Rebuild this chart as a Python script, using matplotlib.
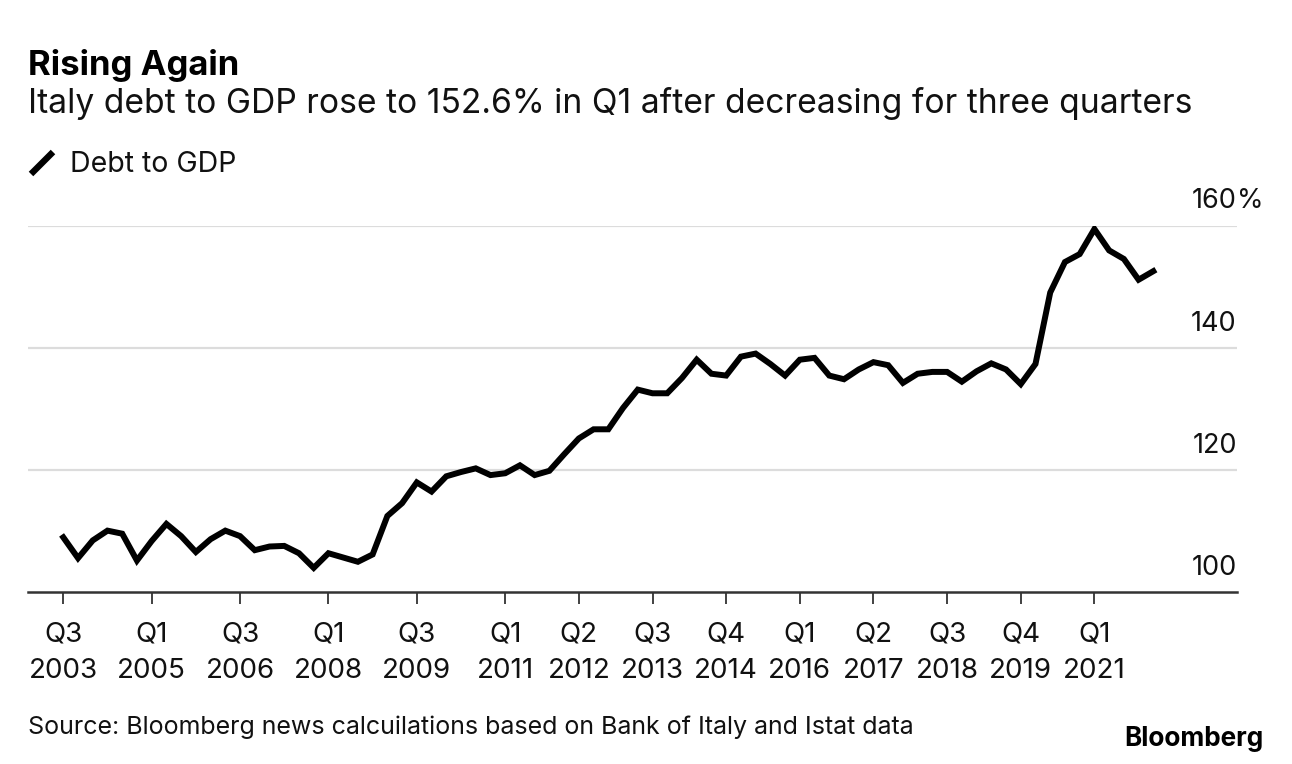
"Italy debt to GDP"
import matplotlib
matplotlib.use("Agg")
import matplotlib.pyplot as plt
from matplotlib.lines import Line2D
from matplotlib import transforms

plt.rcParams['font.family'] = ['Inter', 'DejaVu Sans']

# quarterly, Q3 2003 .. Q1 2022 (% of GDP)
debt_to_gdp = [109.0, 105.6, 108.5, 110.1, 109.6, 105.2, 108.4, 111.2, 109.2, 106.6,
               108.7, 110.1, 109.2, 106.9, 107.5, 107.6, 106.4, 104.0, 106.4, 105.7,
               105.0, 106.2, 112.5, 114.6, 118.0, 116.5, 119.0, 119.7, 120.3, 119.2,
               119.5, 120.8, 119.2, 119.9, 122.6, 125.2, 126.7, 126.7, 130.2, 133.2,
               132.6, 132.6, 135.1, 138.1, 135.8, 135.5, 138.6, 139.1, 137.4, 135.5,
               138.1, 138.4, 135.5, 134.9, 136.5, 137.7, 137.2, 134.3, 135.8, 136.1,
               136.1, 134.5, 136.2, 137.5, 136.5, 134.1, 137.4, 149.1, 154.1, 155.4,
               159.5, 156.0, 154.6, 151.2, 152.6]
quarters = list(range(len(debt_to_gdp)))

tick_pos = [0, 6, 12, 18, 24, 30, 35, 40, 45, 50, 55, 60, 65, 70]
tick_labels = ["Q3\n2003", "Q1\n2005", "Q3\n2006", "Q1\n2008", "Q3\n2009", "Q1\n2011",
               "Q2\n2012", "Q3\n2013", "Q4\n2014", "Q1\n2016", "Q2\n2017", "Q3\n2018",
               "Q4\n2019", "Q1\n2021"]
y_ticks = [100, 120, 140, 160]

W, H = 1292, 764
fig = plt.figure(figsize=(W / 100, H / 100), dpi=100)
ax = fig.add_axes([28.3 / W, 1 - 592.3 / H, (1236.7 - 28.3) / W, (592.3 - 226) / H])

ax.plot(quarters, debt_to_gdp, color='black', lw=4.3, solid_joinstyle='miter', zorder=3)

ax.set_xlim(-2.376, 79.66)
ax.set_ylim(100, 160)

# grid
for v in y_ticks[1:]:
    ax.axhline(v, color='#dcdcdc', lw=1.6, zorder=1)
for s in ['top', 'right', 'left']:
    ax.spines[s].set_visible(False)
ax.spines['bottom'].set_color('#333333')
ax.spines['bottom'].set_linewidth(1.8)

ax.set_yticks([])
ax.set_xticks(tick_pos, labels=tick_labels)
ax.tick_params(axis='x', length=8.6, width=1.3, color='#333333', pad=12.5,
               labelsize=20, labelcolor='#111111')
for lab in ax.get_xticklabels():
    lab.set_linespacing(1.52)

# y labels above the grid lines, right aligned
trans = transforms.blended_transform_factory(ax.transAxes, ax.transData)
trans = transforms.offset_copy(trans, fig=fig, y=17.5, units='dots')
for v in y_ticks:
    ax.text(1.0, v, str(v), transform=trans, ha='right', va='baseline',
            fontsize=19.5, color='#111111')
ax.text(1.0, y_ticks[-1], "%", transform=trans, ha='left', va='baseline',
        fontsize=19.5, color='#111111')

# header
fig.text(28 / W, 1 - 75 / H, "Rising Again", fontsize=25, fontweight='bold',
         va='baseline', ha='left')
fig.text(28 / W, 1 - 113 / H, "Italy debt to GDP rose to 152.6% in Q1 after decreasing for three quarters",
         fontsize=24.2, va='baseline', ha='left', color='#111111')

# legend
fig.add_artist(Line2D([31 / W, 53 / W], [1 - 174 / H, 1 - 152 / H], color='black', lw=4.6,
                      solid_capstyle='butt'))
fig.text(70 / W, 1 - 171.5 / H, "Debt to GDP", fontsize=20.5, va='baseline', ha='left',
         color='#111111')

# footer
fig.text(28 / W, 1 - 734 / H, "Source: Bloomberg news calcuilations based on Bank of Italy and Istat data",
         fontsize=18, va='baseline', ha='left', color='#111111')
fig.text(1263 / W, 1 - 746 / H, "Bloomberg", fontsize=18.8, fontweight='bold',
         va='baseline', ha='right')

fig.savefig("out.png", dpi=100)
